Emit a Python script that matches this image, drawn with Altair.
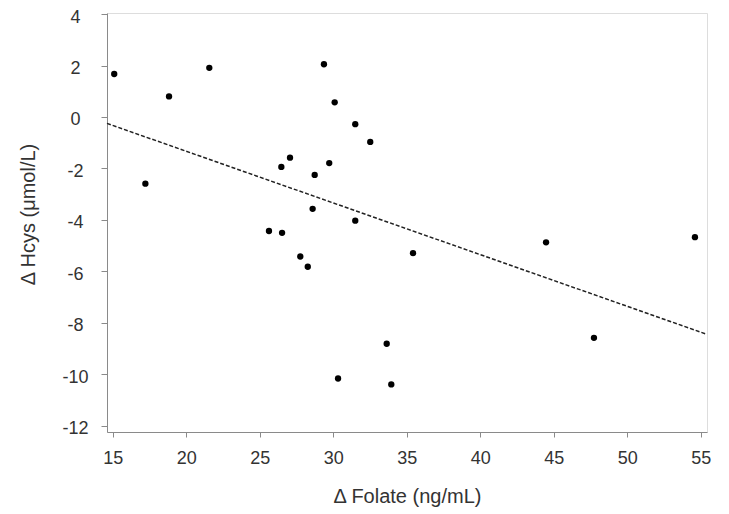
import altair as alt
import pandas as pd

folate = [15.1, 17.22, 18.83, 21.57, 29.37, 30.1, 31.5, 32.52, 27.06, 26.47,
          29.73, 28.74, 28.6, 31.5, 25.63, 26.52, 27.76, 28.27, 35.43, 33.64,
          30.33, 33.95, 44.48, 54.61, 47.74]
hcys = [1.67, -2.59, 0.8, 1.91, 2.05, 0.57, -0.28, -0.97, -1.58, -1.94,
        -1.79, -2.25, -3.57, -4.03, -4.43, -4.5, -5.42, -5.82, -5.29, -8.81,
        -10.16, -10.39, -4.87, -4.67, -8.58]

fit_x = [14.61, 55.35]
fit_y = [-0.25, -8.43]

x_ticks = [15, 20, 25, 30, 35, 40, 45, 50, 55]
y_ticks = [-12, -10, -8, -6, -4, -2, 0, 2, 4]

pts = pd.DataFrame({"x": folate, "y": hcys})
fit = pd.DataFrame({"x": fit_x, "y": fit_y})

FONT = "Liberation Sans"
AX = "#8a8a8a"
TXT = "#333333"

xscale = alt.Scale(domain=[14.61, 55.43], nice=False, zero=False)
yscale = alt.Scale(domain=[-12.24, 4.04], nice=False, zero=False)

xaxis = alt.Axis(values=x_ticks, grid=False, domainColor=AX, tickColor=AX,
                 tickSize=5, labelPadding=12, labelFontSize=18, labelFont=FONT,
                 labelColor=TXT, title="Δ Folate (ng/mL)", titleFont=FONT,
                 titleFontSize=20, titleFontWeight="normal", titleColor=TXT,
                 titleBaseline="alphabetic", titleY=70, titleX=300)
yaxis = alt.Axis(values=y_ticks, grid=False, domainColor=AX, tickColor=AX,
                 tickSize=6, labelPadding=26, labelAlign="center",
                 labelOffset=3, labelExpr="toString(datum.value)",
                 labelFontSize=18, labelFont=FONT, labelColor=TXT,
                 title="Δ Hcys (μmol/L)", titleFont=FONT, titleFontSize=20,
                 titleFontWeight="normal", titleColor=TXT, titleAngle=270,
                 titleBaseline="alphabetic", titleAlign="center",
                 titleX=-73, titleY=201)

points = alt.Chart(pts).mark_circle(size=40, color="black", opacity=1).encode(
    x=alt.X("x:Q", scale=xscale, axis=xaxis),
    y=alt.Y("y:Q", scale=yscale, axis=yaxis),
)

line = alt.Chart(fit).mark_line(color="#222222", strokeWidth=1.5,
                                strokeDash=[4, 2]).encode(
    x=alt.X("x:Q", scale=xscale),
    y=alt.Y("y:Q", scale=yscale),
)

chart = (line + points).properties(
    width=600, height=419,
    autosize=alt.AutoSizeParams(type="none"),
    padding={"left": 99, "top": 5, "right": 10, "bottom": 82},
).configure_view(stroke=None).configure(background="white")

chart.save("out.html", embed_options={"renderer": "svg", "actions": False})
